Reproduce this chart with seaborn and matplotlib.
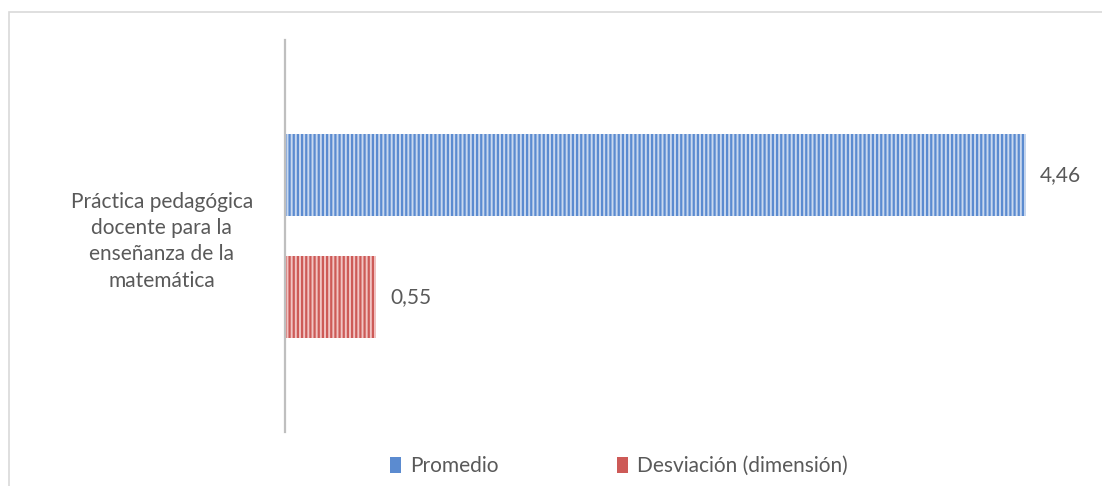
import matplotlib
matplotlib.use("Agg")
import matplotlib.pyplot as plt
import seaborn as sns
import pandas as pd
from matplotlib.patches import Patch, Rectangle

sns.set_theme(style="white")
plt.rcParams['font.family'] = ['Lato', 'DejaVu Sans']
plt.rcParams['hatch.linewidth'] = 1.6

categories = ["Práctica pedagógica\ndocente para la\nenseñanza de la\nmatemática"]
series = ["Promedio", "Desviación (dimensión)"]
values = [4.46, 0.55]

face_colors = ["#c9d8ee", "#f1c4c3"]
stripe_colors = ["#5b8bd0", "#cd5a57"]
text_color = "#595959"
fs = 15

df = pd.DataFrame({
    "categoria": categories * len(series),
    "serie": series,
    "valor": values,
})

W, H = 1102, 486
fig = plt.figure(figsize=(W / 100, H / 100), dpi=100)
ax = fig.add_axes([285 / W, (H - 432) / H, (1082 - 285) / W, (432 - 40) / H])

sns.barplot(data=df, y="categoria", x="valor", hue="serie", orient="h",
            palette=face_colors, width=0.625, gap=0.33, legend=False, ax=ax)

for container, fc, sc in zip(ax.containers, face_colors, stripe_colors):
    for bar in container:
        bar.set_facecolor(fc)
        bar.set_edgecolor(sc)
        bar.set_hatch("||||")
        bar.set_linewidth(0)
    labels = [f"{v:.2f}".replace(".", ",") for v in container.datavalues]
    ax.bar_label(container, labels=labels, padding=10, fontsize=fs, color=text_color)

ax.set_xlim(0, 4.8)
ax.set_ylim(0.5, -0.5)
ax.set_xlabel("")
ax.set_ylabel("")
ax.set_xticks([])
for s in ["top", "right", "bottom"]:
    ax.spines[s].set_visible(False)
ax.spines["left"].set_color("#bfbfbf")
ax.spines["left"].set_linewidth(1.6)
ax.tick_params(axis="y", length=0, pad=23)
for t in ax.get_yticklabels():
    t.set_multialignment("center")
    t.set_fontsize(fs)
    t.set_color(text_color)
    t.set_linespacing(1.4)

handles = [Patch(facecolor=fc, edgecolor=sc, hatch="||||||||", linewidth=0, label=lab)
           for fc, sc, lab in zip(face_colors, stripe_colors, series)]
fig.legend(handles=handles, loc="center", bbox_to_anchor=(619 / W, 1 - 466 / H),
           ncol=2, frameon=False, fontsize=fs, handlelength=0.5, handleheight=0.8,
           handletextpad=0.45, columnspacing=5.7, labelcolor=text_color)

# outer chart frame
fig.patches.append(Rectangle((9 / W, -0.05), 1.1, (H - 12) / H + 0.05,
                             transform=fig.transFigure, fill=False,
                             edgecolor="#d9d9d9", linewidth=1.2))

fig.savefig("out.png", dpi=100)
